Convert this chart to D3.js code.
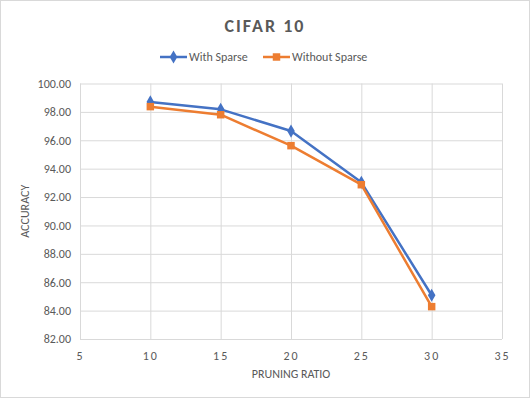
<!DOCTYPE html>
<html>
<head>
<meta charset="utf-8">
<script src="https://cdn.jsdelivr.net/npm/d3@7"></script>
<style>
  body { margin: 0; background: #fff; }
  svg { display: block; font-family: Calibri, Carlito, "Open Sans", "Liberation Sans", sans-serif; }
</style>
</head>
<body>
<svg></svg>
<script>
var ratios = [10, 15, 20, 25, 30]
var withSparse = [98.70, 98.18, 96.65, 93.04, 85.08]
var withoutSparse = [98.37, 97.80, 95.62, 92.87, 84.28]
var seriesNames = ['With Sparse', 'Without Sparse']
var xTicks = [5, 10, 15, 20, 25, 30, 35]
var yTicks = [82, 84, 86, 88, 90, 92, 94, 96, 98, 100]

var W = 530, H = 398
var plotLeft = 80, plotRight = 502, plotTop = 83.5, plotBottom = 339
var blue = '#4472C4', orange = '#ED7D31', grey = '#595959'
var fontStack = 'Calibri, Carlito, "Open Sans", "Liberation Sans", sans-serif'

var svg = d3.select('svg').attr('width', W).attr('height', H)

svg.append('rect')
    .attr('x', 0.5).attr('y', 0.5)
    .attr('width', W - 1).attr('height', H - 1)
    .attr('fill', '#fff').attr('stroke', '#d9d9d9')

var x = d3.scaleLinear().domain([5, 35]).range([plotLeft, plotRight])
var y = d3.scaleLinear().domain([82, 100]).range([plotBottom, plotTop])

// gridlines
svg.append('g')
    .attr('transform', 'translate(0,' + plotBottom + ')')
    .call(d3.axisBottom(x).tickValues(xTicks).tickSize(-(plotBottom - plotTop)).tickFormat(''))
    .call(g => g.select('.domain').remove())
    .call(g => g.selectAll('line').attr('stroke', '#d9d9d9'))

svg.append('g')
    .attr('transform', 'translate(' + plotLeft + ',0)')
    .call(d3.axisLeft(y).tickValues(yTicks).tickSize(-(plotRight - plotLeft)).tickFormat(''))
    .call(g => g.select('.domain').remove())
    .call(g => g.selectAll('line').attr('stroke', '#d9d9d9'))

// tick labels
svg.append('g')
    .attr('transform', 'translate(0,' + plotBottom + ')')
    .call(d3.axisBottom(x).tickValues(xTicks).tickSize(0).tickPadding(12))
    .call(g => g.select('.domain').remove())
    .call(g => g.selectAll('text')
        .attr('fill', grey).style('font-size', '12px').style('letter-spacing', '2px')
        .style('font-family', fontStack))

svg.append('g')
    .attr('transform', 'translate(' + plotLeft + ',0)')
    .call(d3.axisLeft(y).tickValues(yTicks).tickSize(0).tickPadding(9).tickFormat(d3.format('.2f')))
    .call(g => g.select('.domain').remove())
    .call(g => g.selectAll('text')
        .attr('fill', grey).style('font-size', '12px')
        .style('font-family', fontStack))

// titles
svg.append('text')
    .attr('x', 265).attr('y', 32)
    .attr('text-anchor', 'middle')
    .attr('fill', grey)
    .style('font-size', '18px').style('font-weight', 'bold').style('letter-spacing', '2px')
    .text('CIFAR 10')

svg.append('text')
    .attr('x', 291).attr('y', 378)
    .attr('text-anchor', 'middle')
    .attr('fill', grey).style('font-size', '12px')
    .text('PRUNING RATIO')

svg.append('text')
    .attr('transform', 'translate(29,' + ((plotTop + plotBottom) / 2) + ') rotate(-90)')
    .attr('text-anchor', 'middle')
    .attr('fill', grey).style('font-size', '12px')
    .text('ACCURACY')

// series
var series = [
    { name: seriesNames[0], values: withSparse, color: blue, shape: d3.symbolDiamond, size: 50 },
    { name: seriesNames[1], values: withoutSparse, color: orange, shape: d3.symbolSquare, size: 56 }
]

var line = d3.line().x((d, i) => x(ratios[i])).y(d => y(d))

series.forEach(s => {
    svg.append('path')
        .datum(s.values)
        .attr('fill', 'none')
        .attr('stroke', s.color)
        .attr('stroke-width', 2.5)
        .attr('stroke-linejoin', 'round')
        .attr('d', line)

    svg.selectAll(null)
        .data(s.values)
        .enter()
        .append('path')
        .attr('transform', (d, i) => 'translate(' + x(ratios[i]) + ',' + y(d) + ')')
        .attr('d', d3.symbol().type(s.shape).size(s.size))
        .attr('fill', s.color)
})

// legend
var legendX = [160, 263]
series.forEach((s, i) => {
    var g = svg.append('g').attr('transform', 'translate(' + legendX[i] + ',57)')
    g.append('line').attr('x1', 0).attr('x2', 27).attr('stroke', s.color).attr('stroke-width', 2.5)
    g.append('path').attr('transform', 'translate(13.5,0)')
        .attr('d', d3.symbol().type(s.shape).size(s.size)).attr('fill', s.color)
    g.append('text').attr('x', 29).attr('y', 4)
        .attr('fill', grey).style('font-size', '12px')
        .text(s.name)
})
</script>
</body>
</html>
